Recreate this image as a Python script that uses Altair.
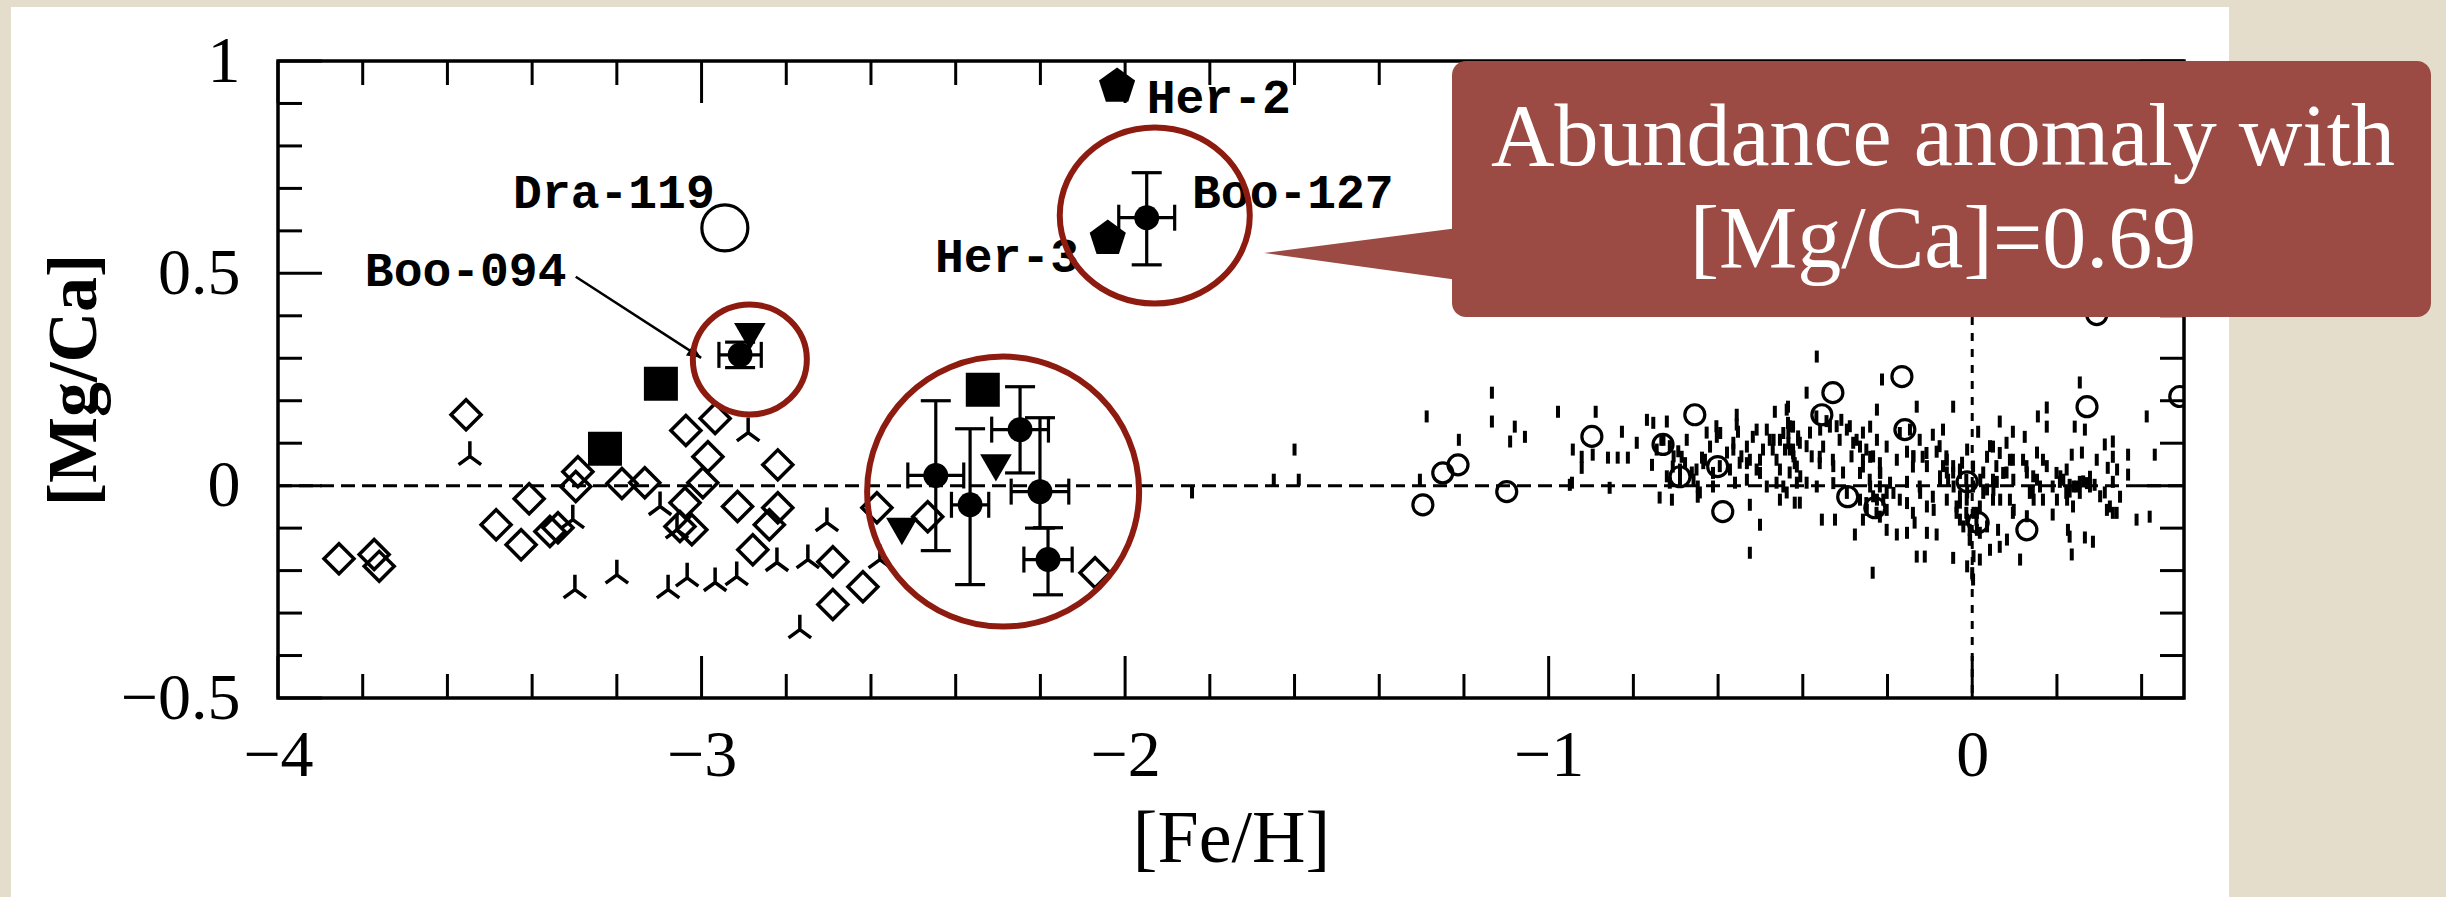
import altair as alt
import pandas as pd

# ---------------------------------------------------------------------------
# [Fe/H] and [Mg/Ca] values
# ---------------------------------------------------------------------------
# halo stars (open diamonds)
HALO_FEH = [-3.856, -3.773, -3.761, -3.556, -3.485, -3.407, -3.426, -3.358, -3.339, -3.297,
            -3.292, -3.188, -3.134, -3.037, -2.968, -2.985, -2.997, -3.039, -3.051, -3.023,
            -2.915, -2.82, -2.82, -2.84, -2.879, -2.69, -2.619, -2.69, -2.586, -2.466, -2.071]
HALO_MGCA = [-0.172, -0.162, -0.19, 0.167, -0.092, -0.031, -0.139, -0.108, -0.099, -0.002,
             0.033, 0.005, 0.007, 0.13, 0.158, 0.068, 0.007, -0.04, -0.096, -0.104,
             -0.049, 0.049, -0.052, -0.092, -0.151, -0.179, -0.238, -0.28, -0.052, -0.073, -0.205]

# halo stars (three-legged symbols)
TRI_FEH = [-3.547, -3.299, -3.2, -3.079, -3.034, -2.968, -3.098, -3.304, -3.058, -2.917,
           -2.89, -2.704, -2.822, -2.749, -2.768, -2.579]
TRI_MGCA = [0.069, -0.245, -0.21, -0.245, -0.217, -0.228, -0.049, -0.08, -0.104, -0.214,
            0.125, -0.087, -0.181, -0.174, -0.339, -0.174]

# dwarf galaxy stars from other works
SQUARE_FEH = [-3.228, -3.096, -2.336]
SQUARE_MGCA = [0.087, 0.24, 0.226]
TRIDOWN_FEH = [-2.886, -2.527, -2.305]
TRIDOWN_MGCA = [0.351, -0.108, 0.042]
HER_FEH = [-2.019, -2.041]
HER_MGCA = [0.94, 0.582]
DRA_FEH = [-2.945]
DRA_MGCA = [0.607]

# Bootes I stars with error bars
BOO_FEH = [-2.909, -2.447, -2.366, -2.248, -2.201, -2.182, -1.949]
BOO_MGCA = [0.308, 0.024, -0.045, 0.132, -0.014, -0.174, 0.631]
BOO_FEH_ERR = [0.05, 0.066, 0.044, 0.067, 0.068, 0.057, 0.066]
BOO_MGCA_LO = [0.278, -0.153, -0.233, 0.03, -0.10, -0.257, 0.52]
BOO_MGCA_HI = [0.338, 0.2, 0.134, 0.233, 0.16, -0.099, 0.737]

# disk stars (small open circles)
DISK_FEH = [-1.297, -1.25, -1.214, -1.099, -0.898, -0.655, -0.73, -0.69, -0.589, -0.601,
            -0.166, -0.329, -0.355, 0.271, 0.294, 0.49, -0.159, -0.294, -0.23, 0.014,
            0.129, -0.012]
DISK_MGCA = [-0.045, 0.03, 0.049, -0.014, 0.116, 0.167, 0.097, 0.021, -0.061, 0.045,
             0.257, 0.219, 0.167, 0.186, 0.403, 0.21, 0.132, -0.026, -0.052, -0.087,
             -0.104, 0.009]

# field dwarfs, metal-poor side (small dashes)
THICK_FEH = [-1.842, -1.649, -1.59, -1.6, -1.304, -1.288, -1.212, -1.134, -1.134, -1.08,
             -1.091, -1.056, -0.978, -0.95, -0.943, -0.922, -0.922, -0.889, -0.896, -0.86,
             -0.837, -0.827, -0.813, -0.856, -0.945, -0.768, -0.792, -0.756, -0.721, -0.738,
             -0.709, -0.648, -0.648, -0.627, -0.612, -0.556, -0.553, -0.525, -0.501, -0.525,
             -0.466, -0.435, -0.454, -0.419, -0.745, -0.707, -0.686, -0.674, -0.662, -0.638,
             -0.619, -0.603, -0.579, -0.572, -0.549, -0.532, -0.518, -0.501, -0.485, -0.471,
             -0.454, -0.435, -0.423, -0.431, -0.414, -0.69, -0.714, -0.56, -0.532, -0.485,
             -0.462, -0.643]
THICK_MGCA = [-0.016, 0.014, 0.014, 0.085, 0.014, 0.163, 0.108, 0.219, 0.151, 0.139,
              0.104, 0.115, 0.174, 0.002, 0.085, 0.068, 0.042, 0.174, 0.073, 0.066,
              0.066, 0.127, 0.066, -0.005, 0.007, 0.155, 0.101, 0.049, 0.151, -0.028,
              -0.033, -0.026, -0.002, 0.125, -0.002, 0.167, 0.127, -0.045, -0.092, -0.158,
              0.174, 0.186, -0.033, -0.04, 0.085, 0.045, 0.068, 0.108, 0.031, 0.066,
              0.092, 0.115, 0.078, 0.038, 0.054, 0.092, 0.115, 0.061, 0.132, 0.085,
              0.038, 0.148, 0.085, 0.031, 0.007, 0.014, 0.007, 0.007, 0.014, -0.002,
              0.007, -0.016]

# field dwarfs, near-solar side (small dashes)
THIN_FEH = [-0.367, -0.391, -0.213, -0.131, -0.045, 0.254, 0.176, 0.155, 0.176, 0.242,
            0.266, 0.412, 0.431, 0.368, 0.368, 0.313, 0.332, 0.32, 0.332, 0.349,
            0.332, 0.388, 0.419, 0.285, 0.266, 0.23, 0.235, 0.113, 0.065, 0.096,
            0.124, 0.014, -0.069, -0.093, -0.235, -0.131, -0.112, -0.045, -0.012, 0.002,
            0.018, 0.042, 0.065, -0.355, -0.324, -0.277, -0.258, -0.202, -0.178, -0.154,
            -0.136, -0.107, -0.084, -0.029, 0.011, 0.061, 0.226, 0.19, 0.2, 0.23,
            0.254, 0.278, 0.289, 0.259, 0.235, 0.223, 0.207, 0.153, 0.143, 0.129,
            0.096, 0.081, 0.058, 0.049, 0.089, 0.096, 0.035, 0.049, 0.081, -0.012,
            -0.024, -0.045, -0.06, -0.084, -0.117, -0.14, -0.154, -0.178, -0.202, -0.225,
            -0.241, -0.265, -0.258, -0.218, -0.194, -0.154, -0.124, -0.093, -0.06, -0.029,
            -0.037, -0.012, 0.011, -0.107, -0.14, -0.171, -0.225, -0.218, -0.305, -0.329,
            -0.36, -0.352, -0.383, -0.407, -0.431, -0.423, -0.438, -0.414, -0.391, -0.438,
            -0.407, -0.367, -0.336, -0.296, -0.281, -0.313, -0.241, -0.225, -0.258, 0.332,
            0.342, 0.294, 0.313, 0.238, 0.19, 0.167, 0.153, 0.12, 0.026, 0.035,
            -0.012, -0.076, -0.06, -0.029, 0.002, 0.018, -0.006]
THIN_MGCA = [0.304, 0.219, 0.25, 0.186, 0.186, 0.243, 0.184, 0.163, 0.139, 0.139,
             0.132, 0.163, 0.073, 0.073, 0.026, 0.097, 0.104, 0.042, 0.009, -0.026,
             -0.064, -0.08, -0.073, -0.132, -0.122, -0.12, -0.162, -0.174, 0.151, 0.127,
             0.115, 0.127, 0.132, 0.12, -0.205, -0.167, -0.167, -0.17, -0.19, -0.221,
             -0.174, -0.151, -0.144, -0.08, -0.08, -0.115, -0.08, -0.104, -0.115, -0.111,
             -0.087, -0.111, -0.115, -0.08, -0.104, -0.104, -0.104, -0.068, -0.033, -0.014,
             0.009, 0.021, 0.002, 0.078, 0.073, 0.038, 0.009, 0.014, -0.014, 0.031,
             0.061, 0.031, 0.009, -0.033, -0.033, -0.064, 0.068, 0.092, 0.101, 0.085,
             0.054, 0.031, 0.061, 0.08, 0.068, 0.045, 0.08, 0.061, 0.092, 0.108,
             0.068, 0.092, 0.045, 0.031, 0.007, 0.009, -0.002, -0.026, -0.033, -0.04,
             -0.064, -0.08, -0.064, -0.049, -0.064, -0.033, -0.033, -0.073, 0.031, 0.061,
             0.068, 0.092, 0.125, 0.101, 0.085, 0.139, 0.179, 0.045, 0.007, -0.016,
             -0.04, -0.002, 0.139, 0.132, 0.101, 0.108, 0.139, 0.179, 0.125, 0.068,
             0.038, 0.061, -0.016, -0.049, -0.002, 0.061, 0.078, 0.061, 0.031, -0.009,
             -0.016, 0.014, 0.031, 0.038, 0.045, -0.111, -0.127]

# field dwarfs in the crowded core of the distribution (small dashes)
CORE_FEH = [-0.446, -0.434, -0.423, -0.411, -0.431, -0.368, -0.344, -0.32, -0.309, -0.379,
            -0.36, -0.289, -0.273, -0.25, -0.234, -0.218, -0.265, -0.242, -0.218, -0.234,
            -0.21, -0.25, -0.226, -0.202, -0.258, -0.285, -0.171, -0.147, -0.124, -0.108,
            -0.139, -0.077, -0.061, -0.045, -0.029, -0.014, 0.002, -0.029, -0.037, -0.014,
            0.01, -0.006, 0.018, 0.026, -0.069, -0.057, 0.042, 0.065, 0.089, 0.057,
            0.073, 0.097, 0.049, 0.128, 0.144, 0.16, 0.136, 0.167, 0.199, 0.215,
            0.23, 0.246, 0.262, 0.278, 0.222, 0.254, 0.325, 0.341, -0.734, -0.714,
            -0.694, -0.678, -0.651, -0.631, -0.612, -0.596, -0.564, -0.545, -0.525, -0.509,
            -0.494, -0.478, -0.462, -0.442, -0.419, -0.411, -0.454, -0.509, -0.604, -0.556,
            -0.434]
CORE_MGCA = [0.124, 0.1, 0.077, 0.116, 0.14, 0.163, 0.152, 0.14, 0.155, 0.069,
             0.053, 0.14, 0.108, 0.085, 0.069, 0.053, 0.03, 0.014, -0.002, -0.025,
             -0.033, -0.041, -0.064, -0.017, 0.061, 0.069, 0.124, 0.132, 0.108, 0.077,
             0.069, 0.093, 0.069, 0.046, 0.03, 0.014, -0.002, -0.025, -0.049, -0.064,
             -0.08, -0.104, -0.049, -0.017, 0.046, 0.014, 0.093, 0.077, 0.061, 0.046,
             0.03, 0.014, 0.014, 0.046, 0.022, -0.002, -0.017, -0.033, 0.03, 0.014,
             0.002, -0.002, 0.01, -0.002, -0.017, -0.017, -0.049, -0.064, 0.108, 0.093,
             0.081, 0.053, 0.038, 0.061, 0.03, 0.046, 0.101, 0.069, 0.061, 0.038,
             0.085, 0.108, 0.061, 0.085, 0.053, 0.108, 0.108, 0.132, 0.14, 0.144,
             0.124]

# field dwarfs in the densest part, around solar metallicity (small dashes)
DENSE_FEH = [-0.753, -0.729, -0.705, -0.69, -0.658, -0.635, -0.721, -0.595, -0.564, -0.532,
             -0.501, -0.469, -0.422, -0.391, -0.359, -0.328, -0.406, -0.446, -0.328, -0.296,
             -0.265, -0.241, -0.217, -0.186, -0.154, -0.202, -0.249, -0.139, -0.107, -0.076,
             -0.044, -0.013, 0.003, -0.021, -0.091, -0.123, 0.019, 0.05, 0.066, 0.098,
             0.129, 0.035, 0.082, 0.145, 0.176, 0.208, 0.239, 0.271, 0.302, 0.224,
             0.318, -0.005, 0.003, 0.0]
DENSE_MGCA = [0.148, 0.108, 0.069, 0.038, 0.014, 0.053, 0.022, 0.124, 0.085, 0.053,
              0.03, 0.108, 0.069, 0.093, 0.132, 0.046, 0.022, -0.002, 0.006, -0.017,
              -0.033, -0.002, 0.03, -0.017, -0.041, -0.057, -0.057, 0.069, 0.046, 0.022,
              -0.002, -0.033, -0.064, -0.096, -0.057, -0.017, 0.014, -0.01, -0.033, -0.057,
              -0.072, -0.096, -0.127, -0.033, 0.046, 0.022, -0.002, 0.006, -0.025, -0.033,
              -0.057, -0.127, -0.166, -0.206]

# star names and where they are written
NAME_TEXT = ["Her-2", "Boo-127", "Her-3", "Dra-119", "Boo-094"]
NAME_FEH = [-1.949, -1.842, -2.449, -3.445, -3.795]
NAME_MGCA = [0.878, 0.655, 0.504, 0.655, 0.469]

# arrow from the Boo-094 name to its star
ARROW_FEH = [-3.297, -3.001]
ARROW_MGCA = [0.492, 0.301]

# highlighted groups: centre and radii (px)
RING_FEH = [-2.886, -1.93, -2.288]
RING_MGCA = [0.297, 0.636, -0.014]
RING_RX = [57, 95, 136]
RING_RY = [55, 88, 135]

CALLOUT_LINES = ["Abundance anomaly with", "[Mg/Ca]=0.69"]

# axis ticks
X_MAJOR = [-4, -3, -2, -1, 0]
X_MINOR = [-3.8, -3.6, -3.4, -3.2, -2.8, -2.6, -2.4, -2.2, -1.8, -1.6, -1.4, -1.2,
           -0.8, -0.6, -0.4, -0.2, 0.2, 0.4]
Y_MAJOR = [-0.5, 0, 0.5, 1]
Y_MINOR = [-0.4, -0.3, -0.2, -0.1, 0.1, 0.2, 0.3, 0.4, 0.6, 0.7, 0.8, 0.9]

# ---------------------------------------------------------------------------
# layout and style
# ---------------------------------------------------------------------------
CANVAS_W, CANVAS_H = 2446, 897
LEFT, TOP = 278, 61
W, H = 1906, 637

BEIGE = "#e4ddcc"
INK = "#000000"
RING = "#8e1b0f"
CALLOUT = "#9b4b43"
SERIF = "Liberation Serif"
MONO = "Liberation Mono"

XS = alt.Scale(domain=[-4, 0.5], nice=False, zero=False)
YS = alt.Scale(domain=[-0.5, 1], nice=False, zero=False)

X_AXIS = alt.Axis(values=X_MAJOR, format="~g", title="[Fe/H]", domain=False, ticks=False,
                  tickSize=0, grid=False, labelFont=SERIF, labelFontSize=66, labelColor=INK,
                  labelBaseline="alphabetic", labelPadding=77, labelFlush=False,
                  labelOverlap=False, titleFont=SERIF, titleFontSize=74,
                  titleFontWeight="normal", titleColor=INK, titleX=W / 2, titleY=141,
                  titleBaseline="middle", titleAlign="center", zindex=1)
Y_AXIS = alt.Axis(values=Y_MAJOR, format="~g", title="[Mg/Ca]", domain=False, ticks=False,
                  tickSize=0, grid=False, labelFont=SERIF, labelFontSize=66, labelColor=INK,
                  labelAlign="right", labelBaseline="middle", labelPadding=38,
                  labelFlush=False, labelOverlap=False, titleFont=SERIF, titleFontSize=70,
                  titleFontWeight="bold", titleColor=INK, titleAngle=270, titleX=-204,
                  titleY=H / 2, titleBaseline="middle", titleAlign="center", zindex=1)


def X(field="x"):
    return alt.X(f"{field}:Q", scale=XS, axis=X_AXIS)


def Y(field="y"):
    return alt.Y(f"{field}:Q", scale=YS, axis=Y_AXIS)


def pts(xs, ys):
    return pd.DataFrame({"x": xs, "y": ys})


ONE = pd.DataFrame({"k": [0]})

TRIPOD = "M0,-1L0,0L-0.75,0.55M0,0L0.75,0.55"
DASH = "M0,-1L0,1"
HBAR = "M-1,0L1,0"
PENTAGON = "M0,-1L0.951,-0.309L0.588,0.809L-0.588,0.809L-0.951,-0.309Z"
ARROWHEAD = "M0,0L-1,-0.45L-1,0.45Z"


def ellipse_path(ratio, k=0.5523):
    r = ratio
    return (f"M-1,0C-1,{-k*r:.4f},{-k:.4f},{-r:.4f},0,{-r:.4f}"
            f"C{k:.4f},{-r:.4f},1,{-k*r:.4f},1,0"
            f"C1,{k*r:.4f},{k:.4f},{r:.4f},0,{r:.4f}"
            f"C{-k:.4f},{r:.4f},-1,{k*r:.4f},-1,0Z")


layers = []

# white slide panel behind the figure
layers.append(alt.Chart(ONE).mark_rect(fill="white").encode(
    x=alt.value(11 - LEFT), x2=alt.value(2229 - LEFT),
    y=alt.value(7 - TOP), y2=alt.value(CANVAS_H - TOP)))

# solar reference lines
layers.append(alt.Chart(pts([0], [0])).mark_rule(color=INK, strokeWidth=3, strokeDash=[14, 7]).encode(
    y=Y("y"), x=alt.value(0), x2=alt.value(W)))
layers.append(alt.Chart(pts([0], [0])).mark_rule(color=INK, strokeWidth=3, strokeDash=[8, 8]).encode(
    x=X("x"), y=alt.value(0), y2=alt.value(H)))

# inward ticks on all four sides
for vals, ln in ((X_MAJOR, 42), (X_MINOR, 24)):
    d = pd.DataFrame({"x": vals})
    layers.append(alt.Chart(d).mark_rule(color=INK, strokeWidth=3).encode(
        x=X("x"), y=alt.value(H), y2=alt.value(H - ln)))
    layers.append(alt.Chart(d).mark_rule(color=INK, strokeWidth=3).encode(
        x=X("x"), y=alt.value(0), y2=alt.value(ln)))
for vals, ln in ((Y_MAJOR, 44), (Y_MINOR, 24)):
    d = pd.DataFrame({"y": vals})
    layers.append(alt.Chart(d).mark_rule(color=INK, strokeWidth=3).encode(
        y=Y("y"), x=alt.value(0), x2=alt.value(ln)))
    layers.append(alt.Chart(d).mark_rule(color=INK, strokeWidth=3).encode(
        y=Y("y"), x=alt.value(W), x2=alt.value(W - ln)))

# field dwarfs
for fx, fy in ((THICK_FEH, THICK_MGCA), (THIN_FEH, THIN_MGCA), (CORE_FEH, CORE_MGCA),
               (DENSE_FEH, DENSE_MGCA)):
    layers.append(alt.Chart(pts(fx, fy)).mark_point(
        shape=DASH, size=144, filled=False, color=INK, strokeWidth=4, opacity=1).encode(
        x=X(), y=Y()))

# disk stars
layers.append(alt.Chart(pts(DISK_FEH, DISK_MGCA)).mark_point(
    shape="circle", size=400, filled=False, color=INK, strokeWidth=3.2, opacity=1, clip=True).encode(
    x=X(), y=Y()))

# star names (drawn below the symbols)
names = pd.DataFrame({"x": NAME_FEH, "y": NAME_MGCA, "t": NAME_TEXT})
layers.append(alt.Chart(names).mark_text(
    align="left", baseline="alphabetic", font=MONO, fontWeight="bold", fontSize=48,
    color=INK).encode(x=X(), y=Y(), text="t:N"))

# halo stars
layers.append(alt.Chart(pts(HALO_FEH, HALO_MGCA)).mark_point(
    shape="diamond", size=900, filled=False, color=INK, strokeWidth=3.5, opacity=1).encode(
    x=X(), y=Y()))
layers.append(alt.Chart(pts(TRI_FEH, TRI_MGCA)).mark_point(
    shape=TRIPOD, size=900, filled=False, color=INK, strokeWidth=3.5, opacity=1).encode(
    x=X(), y=Y()))

# Bootes I error bars
boo = pd.DataFrame({"x": BOO_FEH, "y": BOO_MGCA,
                    "xlo": [a - e for a, e in zip(BOO_FEH, BOO_FEH_ERR)],
                    "xhi": [a + e for a, e in zip(BOO_FEH, BOO_FEH_ERR)],
                    "ylo": BOO_MGCA_LO, "yhi": BOO_MGCA_HI})
layers.append(alt.Chart(boo).mark_rule(color=INK, strokeWidth=3.2).encode(
    x=X("x"), y=Y("ylo"), y2=alt.Y2("yhi")))
layers.append(alt.Chart(boo).mark_rule(color=INK, strokeWidth=3.2).encode(
    x=X("xlo"), x2=alt.X2("xhi"), y=Y("y")))
for yf in ("ylo", "yhi"):
    layers.append(alt.Chart(boo).mark_point(
        shape=HBAR, size=900, filled=False, color=INK, strokeWidth=3.2, opacity=1).encode(
        x=X("x"), y=Y(yf)))
for xf in ("xlo", "xhi"):
    layers.append(alt.Chart(boo).mark_point(
        shape=DASH, size=676, filled=False, color=INK, strokeWidth=3.2, opacity=1).encode(
        x=X(xf), y=Y("y")))
layers.append(alt.Chart(boo).mark_circle(size=620, color=INK, opacity=1).encode(x=X(), y=Y()))

# other dwarf galaxy stars
layers.append(alt.Chart(pts(SQUARE_FEH, SQUARE_MGCA)).mark_square(
    size=1156, color=INK, opacity=1).encode(x=X(), y=Y()))
layers.append(alt.Chart(pts(TRIDOWN_FEH, TRIDOWN_MGCA)).mark_point(
    shape="triangle-down", size=1000, filled=True, color=INK, opacity=1).encode(x=X(), y=Y()))
layers.append(alt.Chart(pts(HER_FEH, HER_MGCA)).mark_point(
    shape=PENTAGON, size=1444, filled=True, color=INK, opacity=1).encode(x=X(), y=Y()))
layers.append(alt.Chart(pts(DRA_FEH, DRA_MGCA)).mark_point(
    shape="circle", size=2116, filled=False, color=INK, strokeWidth=3.2, opacity=1).encode(
    x=X(), y=Y()))

# arrow to Boo-094
arrow = pd.DataFrame({"x": [ARROW_FEH[0]], "y": [ARROW_MGCA[0]],
                      "x2": [ARROW_FEH[1]], "y2": [ARROW_MGCA[1]]})
layers.append(alt.Chart(arrow).mark_rule(color=INK, strokeWidth=2.5).encode(
    x=X("x"), x2=alt.X2("x2"), y=Y("y"), y2=alt.Y2("y2")))
layers.append(alt.Chart(pts([ARROW_FEH[1]], [ARROW_MGCA[1]])).mark_point(
    shape=ARROWHEAD, size=784, angle=33, filled=True, color=INK, opacity=1).encode(
    x=X(), y=Y()))

# red rings around the Bootes I stars
rings = pd.DataFrame({"x": RING_FEH, "y": RING_MGCA,
                      "path": [ellipse_path(ry / rx) for rx, ry in zip(RING_RX, RING_RY)],
                      "s": [(2 * rx) ** 2 for rx in RING_RX]})
layers.append(alt.Chart(rings).mark_point(
    filled=False, color=RING, strokeWidth=6, opacity=1).encode(
    x=X(), y=Y(), shape=alt.Shape("path:N", scale=None), size=alt.Size("s:Q", scale=None)))

# plot frame
layers.append(alt.Chart(ONE).mark_rect(fillOpacity=0, stroke=INK, strokeWidth=3.5).encode(
    x=alt.value(0), x2=alt.value(W), y=alt.value(0), y2=alt.value(H)))

# callout box with pointer
layers.append(alt.Chart(ONE).mark_rect(fill=CALLOUT, cornerRadius=14).encode(
    x=alt.value(1452 - LEFT), x2=alt.value(2431 - LEFT), y=alt.value(0), y2=alt.value(256)))
layers.append(alt.Chart(ONE).mark_point(
    shape="M0,0L194,-25L194,27Z", size=4, filled=True, color=CALLOUT, opacity=1).encode(
    x=alt.value(1264 - LEFT), y=alt.value(253 - TOP)))
for line, base in zip(CALLOUT_LINES, (104, 206)):
    layers.append(alt.Chart(ONE).mark_text(
        align="center", baseline="alphabetic", font=SERIF, fontSize=88, color="white").encode(
        x=alt.value(1665), y=alt.value(base), text=alt.value(line)))

chart = alt.layer(*layers).properties(
    width=W, height=H,
    padding={"left": LEFT, "top": TOP, "right": CANVAS_W - LEFT - W, "bottom": CANVAS_H - TOP - H},
    autosize=alt.AutoSizeParams(type="none"),
    background=BEIGE,
).configure_view(stroke=None)

chart.save("out.html", embed_options={"renderer": "svg", "actions": False})
